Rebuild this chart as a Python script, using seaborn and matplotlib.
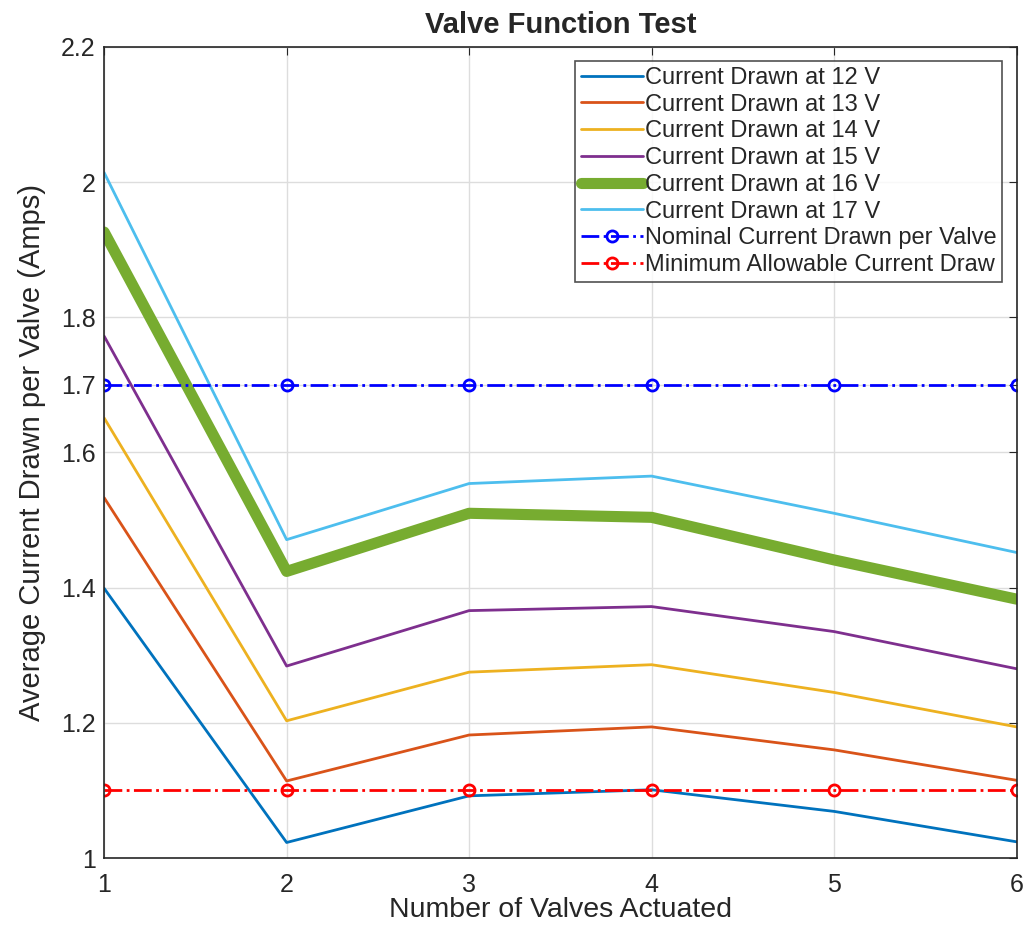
import matplotlib
matplotlib.use("Agg")
import matplotlib.pyplot as plt
import seaborn as sns
import pandas as pd

valves = [1, 2, 3, 4, 5, 6]
i12 = [1.399, 1.023, 1.092, 1.101, 1.069, 1.024]
i13 = [1.533, 1.114, 1.182, 1.194, 1.160, 1.115]
i14 = [1.651, 1.203, 1.275, 1.286, 1.245, 1.194]
i15 = [1.772, 1.284, 1.366, 1.372, 1.335, 1.280]
i16 = [1.926, 1.424, 1.510, 1.504, 1.441, 1.383]
i17 = [2.014, 1.471, 1.554, 1.565, 1.510, 1.452]
nominal = [1.7] * 6
minimum = [1.1] * 6

series_labels = ["Current Drawn at 12 V", "Current Drawn at 13 V", "Current Drawn at 14 V",
                 "Current Drawn at 15 V", "Current Drawn at 16 V", "Current Drawn at 17 V"]
series_vals = [i12, i13, i14, i15, i16, i17]
series_colors = ["#0072BD", "#D95319", "#EDB120", "#7E2F8E", "#77AC30", "#4DBEEE"]
series_widths = [2, 2, 2, 2, 8, 2]

yticks = [1, 1.2, 1.4, 1.6, 1.7, 1.8, 2, 2.2]
yticklabels = ["1", "1.2", "1.4", "1.6", "1.7", "1.8", "2", "2.2"]

sns.set_style("white")
plt.rcParams['font.family'] = ['Liberation Sans', 'DejaVu Sans']

fig = plt.figure(figsize=(10.31, 9.26), dpi=100)
ax = fig.add_axes([0.101, 0.0734, 0.885, 0.876])

for lab, vals, col, lw in zip(series_labels, series_vals, series_colors, series_widths):
    df = pd.DataFrame({"x": valves, "y": vals})
    sns.lineplot(data=df, x="x", y="y", ax=ax, color=col, linewidth=lw, label=lab)

df_n = pd.DataFrame({"x": valves, "y": nominal})
sns.lineplot(data=df_n, x="x", y="y", ax=ax, color="blue", linewidth=2, linestyle="-.",
             marker="o", markersize=8, markerfacecolor="none", markeredgecolor="blue",
             markeredgewidth=2, label="Nominal Current Drawn per Valve")
df_m = pd.DataFrame({"x": valves, "y": minimum})
sns.lineplot(data=df_m, x="x", y="y", ax=ax, color="red", linewidth=2, linestyle="-.",
             marker="o", markersize=8, markerfacecolor="none", markeredgecolor="red",
             markeredgewidth=2, label="Minimum Allowable Current Draw")

ax.set_xlim(1, 6)
ax.set_ylim(1, 2.2)
ax.set_xticks(valves)
ax.set_xticklabels([str(v) for v in valves])
ax.set_yticks(yticks)
ax.set_yticklabels(yticklabels)
ax.grid(True, color="#dddddd", linewidth=1)
ax.tick_params(direction="in", top=True, right=True, labelsize=18, length=6,
               color="#262626", labelcolor="#262626")
ax.tick_params(axis="x", pad=11)
ax.tick_params(axis="y", pad=6)
for s in ax.spines.values():
    s.set_color("#262626")
    s.set_linewidth(1.2)

ax.set_xlabel("Number of Valves Actuated", fontsize=20.5, color="#262626", labelpad=0)
ax.set_ylabel("Average Current Drawn per Valve (Amps)", fontsize=21, color="#262626", labelpad=11)
ax.set_title("Valve Function Test", fontsize=21, fontweight="bold", pad=10)

leg = ax.legend(loc="upper right", fontsize=17, frameon=True, fancybox=False,
                edgecolor="#262626", handlelength=2.6, handletextpad=0.1,
                labelspacing=0.2, borderpad=0.25, borderaxespad=0.6)
leg.get_frame().set_linewidth(1.2)

fig.savefig("out.png", dpi=100)
